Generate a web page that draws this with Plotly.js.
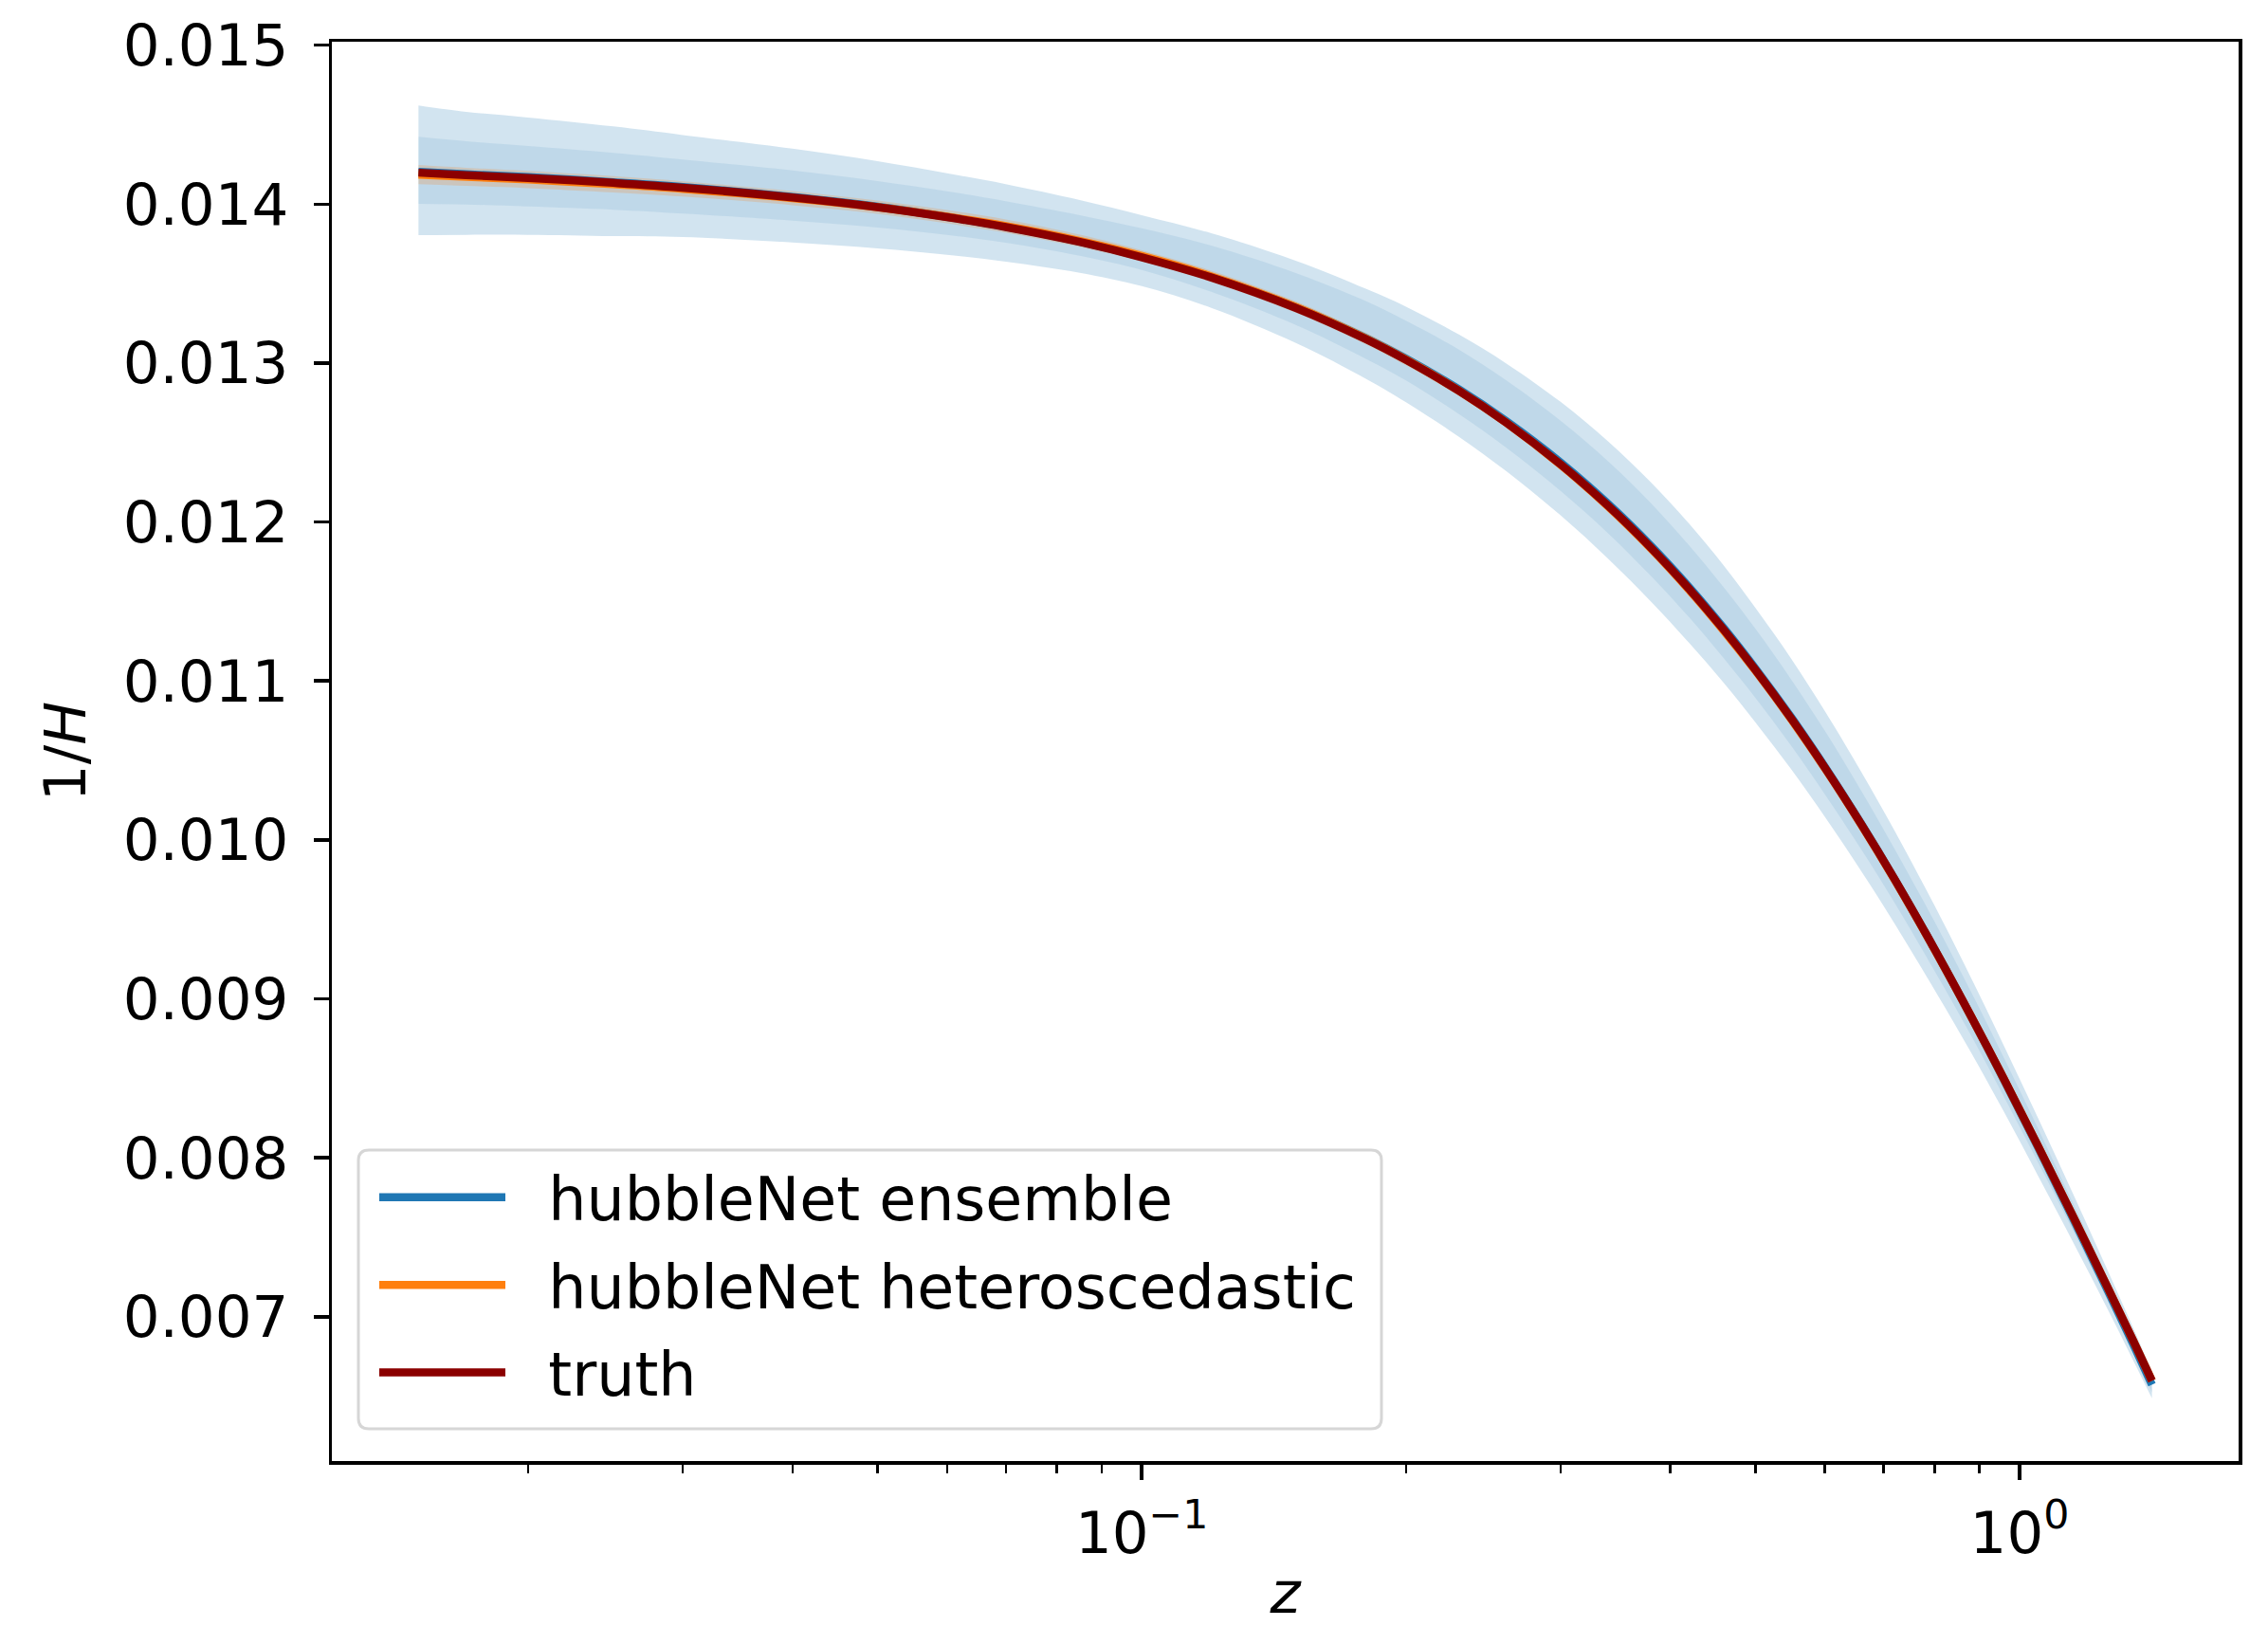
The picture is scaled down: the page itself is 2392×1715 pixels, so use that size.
<!DOCTYPE html>
<html>
<head>
<meta charset="utf-8">
<script src="https://cdn.plot.ly/plotly-3.0.1.min.js"></script>
<style>html,body{margin:0;padding:0;background:#fff;}#chart{width:2392px;height:1715px;}</style>
</head>
<body>
<div id="chart"></div>
<script>
// ---- data ----
const z = [0.015, 0.017, 0.02, 0.025, 0.03, 0.04, 0.05, 0.06, 0.07, 0.085, 0.1, 0.12, 0.15, 0.18, 0.2, 0.23, 0.26, 0.3, 0.34, 0.38, 0.42, 0.46, 0.5, 0.55, 0.6, 0.66, 0.72, 0.8, 0.88, 0.96, 1.05, 1.15, 1.26, 1.35, 1.415];
const truth = [0.014198, 0.014183, 0.014165, 0.014134, 0.014104, 0.014042, 0.013981, 0.013918, 0.013856, 0.013762, 0.013666, 0.013539, 0.013346, 0.013151, 0.013020, 0.012824, 0.012626, 0.012363, 0.012101, 0.011840, 0.011581, 0.011324, 0.011071, 0.010760, 0.010455, 0.010099, 0.009755, 0.009313, 0.008893, 0.008495, 0.008072, 0.007633, 0.007183, 0.006838, 0.006597];
const ensMean = [0.014204, 0.014188, 0.014170, 0.014138, 0.014108, 0.014045, 0.013984, 0.013920, 0.013858, 0.013764, 0.013669, 0.013543, 0.013351, 0.013158, 0.013028, 0.012833, 0.012636, 0.012375, 0.012113, 0.011852, 0.011592, 0.011334, 0.011079, 0.010767, 0.010460, 0.010102, 0.009756, 0.009313, 0.008891, 0.008490, 0.008064, 0.007621, 0.007166, 0.006817, 0.006572];
const hetMean = [0.014186, 0.014172, 0.014155, 0.014125, 0.014096, 0.014038, 0.013981, 0.013921, 0.013862, 0.013769, 0.013674, 0.013546, 0.013352, 0.013154, 0.013022, 0.012825, 0.012626, 0.012360, 0.012097, 0.011835, 0.011575, 0.011318, 0.011066, 0.010755, 0.010451, 0.010096, 0.009752, 0.009311, 0.008892, 0.008495, 0.008072, 0.007633, 0.007183, 0.006838, 0.006597];
// band half-widths around the ensemble mean (wide band and narrow band), and the heteroscedastic band
const ensOuterUp = [0.000417, 0.000393, 0.000375, 0.000351, 0.000327, 0.000304, 0.000286, 0.000274, 0.000268, 0.000262, 0.000262, 0.000274, 0.000292, 0.000310, 0.000327, 0.000345, 0.000363, 0.000381, 0.000393, 0.000399, 0.000399, 0.000393, 0.000381, 0.000369, 0.000351, 0.000327, 0.000304, 0.000274, 0.000244, 0.000214, 0.000185, 0.000155, 0.000125, 0.000101, 0.000085];
const ensOuterDn = [0.000399, 0.000381, 0.000363, 0.000339, 0.000315, 0.000286, 0.000262, 0.000238, 0.000220, 0.000196, 0.000185, 0.000196, 0.000226, 0.000256, 0.000274, 0.000298, 0.000315, 0.000333, 0.000345, 0.000351, 0.000351, 0.000345, 0.000339, 0.000327, 0.000315, 0.000298, 0.000280, 0.000256, 0.000226, 0.000202, 0.000179, 0.000149, 0.000119, 0.000101, 0.000085];
const ensInnerUp = [0.000220, 0.000208, 0.000196, 0.000185, 0.000173, 0.000167, 0.000161, 0.000161, 0.000161, 0.000167, 0.000179, 0.000196, 0.000214, 0.000232, 0.000238, 0.000250, 0.000256, 0.000262, 0.000268, 0.000268, 0.000262, 0.000256, 0.000250, 0.000238, 0.000226, 0.000208, 0.000190, 0.000173, 0.000155, 0.000137, 0.000119, 0.000095, 0.000077, 0.000065, 0.000055];
const ensInnerDn = [0.000202, 0.000190, 0.000185, 0.000173, 0.000167, 0.000149, 0.000131, 0.000113, 0.000101, 0.000089, 0.000083, 0.000095, 0.000113, 0.000131, 0.000137, 0.000155, 0.000167, 0.000179, 0.000185, 0.000190, 0.000190, 0.000190, 0.000185, 0.000179, 0.000173, 0.000161, 0.000149, 0.000137, 0.000119, 0.000107, 0.000095, 0.000077, 0.000065, 0.000054, 0.000049];
const hetErr = [0.000060, 0.000057, 0.000054, 0.000051, 0.000048, 0.000045, 0.000042, 0.000042, 0.000042, 0.000039, 0.000036, 0.000036, 0.000036, 0.000036, 0.000036, 0.000033, 0.000030, 0.000030, 0.000030, 0.000030, 0.000030, 0.000030, 0.000030, 0.000030, 0.000030, 0.000030, 0.000030, 0.000027, 0.000024, 0.000024, 0.000024, 0.000024, 0.000024, 0.000024, 0.000024];
const yTicks = [0.007, 0.008, 0.009, 0.010, 0.011, 0.012, 0.013, 0.014, 0.015];
const xTicks = [0.1, 1];
const xTickText = ['10<sup>\u22121</sup>', '10<sup>0</sup>'];
const xMinor = [0.02, 0.03, 0.04, 0.05, 0.06, 0.07, 0.08, 0.09, 0.2, 0.3, 0.4, 0.5, 0.6, 0.7, 0.8, 0.9];
const seriesNames = ['hubbleNet ensemble', 'hubbleNet heteroscedastic', 'truth'];
const xTitle = '<i>z</i>';
const yTitle = '1/<i>H</i>';

// ---- build ----
const add = (a, b, s) => a.map((v, i) => v + s * b[i]);
const FONT = 'DejaVu Sans, sans-serif';
const blueFill = 'rgba(31,119,180,0.2)';
const blueFill2 = 'rgba(31,119,180,0.1)';
const orangeFill = 'rgba(255,127,14,0.2)';
const SM = 1.0;
const legendPad = '\u00a0\u00a0';

function band(lo, hi, color) {
  const ln = {shape: 'spline', smoothing: SM, width: 0, color: 'rgba(0,0,0,0)'};
  return [
    {x: z, y: lo, type: 'scatter', mode: 'lines', line: ln, showlegend: false, hoverinfo: 'skip'},
    {x: z, y: hi, type: 'scatter', mode: 'lines', fill: 'tonexty', fillcolor: color, line: ln, showlegend: false, hoverinfo: 'skip'}
  ];
}
function curve(y, name, color, grp) {
  return {x: z, y: y, type: 'scatter', mode: 'lines', name: legendPad + name, legendgroup: grp,
          line: {color: color, width: 8.5, shape: 'spline', smoothing: SM}};
}

const traces = [].concat(
  band(add(ensMean, ensOuterDn, -1), add(ensMean, ensOuterUp, 1), blueFill),
  band(add(ensMean, ensInnerDn, -1), add(ensMean, ensInnerUp, 1), blueFill2),
  band(add(hetMean, hetErr, -1), add(hetMean, hetErr, 1), orangeFill),
  [
    curve(ensMean, seriesNames[0], '#1f77b4', 'a'),
    curve(hetMean, seriesNames[1] + '\u00a0', '#ff7f0e', 'b'),
    curve(truth, seriesNames[2], '#8b0000', 'c')
  ]
);

// page geometry (pixels)
const W = 2392, H = 1715;
const M = {l: 350, r: 31, t: 44, b: 174, pad: 0};
const PW = W - M.l - M.r, PH = H - M.t - M.b;
const px2x = (p) => (p - M.l) / PW;
const px2y = (p) => (H - M.b - p) / PH;

// rounded legend frame (matplotlib-style fancy box)
function roundRect(x0, y0, x1, y1, r) {
  const rx = r / PW, ry = r / PH;
  const X0 = px2x(x0), X1 = px2x(x1), Yt = px2y(y0), Yb = px2y(y1);
  return `M${X0 + rx},${Yt} L${X1 - rx},${Yt} Q${X1},${Yt} ${X1},${Yt - ry} L${X1},${Yb + ry} Q${X1},${Yb} ${X1 - rx},${Yb} L${X0 + rx},${Yb} Q${X0},${Yb} ${X0},${Yb + ry} L${X0},${Yt - ry} Q${X0},${Yt} ${X0 + rx},${Yt} Z`;
}

const axisCommon = {
  showline: true, linecolor: 'black', linewidth: 3.5, mirror: true,
  ticks: 'outside', ticklen: 16, tickwidth: 3.5, tickcolor: 'black',
  showgrid: false, zeroline: false, automargin: false,
  tickfont: {family: FONT, size: 61, color: 'black'}
};

const layout = {
  width: W, height: H,
  margin: M,
  paper_bgcolor: 'white', plot_bgcolor: 'white',
  font: {family: FONT, size: 61, color: 'black'},
  showlegend: true,
  xaxis: Object.assign({}, axisCommon, {
    type: 'log',
    range: [-1.9226, 0.2495],
    tickmode: 'array', tickvals: xTicks, ticktext: xTickText,
    ticklabelstandoff: 4,
    minor: {tickmode: 'array', tickvals: xMinor, ticks: 'outside', ticklen: 9, tickwidth: 2.5, tickcolor: 'black', showgrid: false},
    title: {text: xTitle, font: {family: FONT, size: 61, color: 'black'}}
  }),
  yaxis: Object.assign({}, axisCommon, {
    range: [0.006092, 0.015022],
    tickmode: 'array', tickvals: yTicks, tickformat: '.3f',
    ticklabelstandoff: 14,
    title: {text: yTitle, font: {family: FONT, size: 61, color: 'black'}, standoff: 20}
  }),
  shapes: [{
    type: 'path', xref: 'paper', yref: 'paper', layer: 'above',
    path: roundRect(378, 1213, 1457, 1507, 11),
    fillcolor: 'rgba(255,255,255,0.8)', line: {color: '#d6d6d6', width: 3}
  }],
  legend: {
    x: px2x(380), y: px2y(1215), xanchor: 'left', yanchor: 'top',
    bgcolor: 'rgba(0,0,0,0)', borderwidth: 0,
    font: {family: FONT, size: 63.4, color: 'black'},
    itemwidth: 133, indentation: 15, tracegroupgap: 7, traceorder: 'grouped'
  }
};

Plotly.newPlot('chart', traces, layout, {staticPlot: true, displayModeBar: false});
</script>
</body>
</html>
